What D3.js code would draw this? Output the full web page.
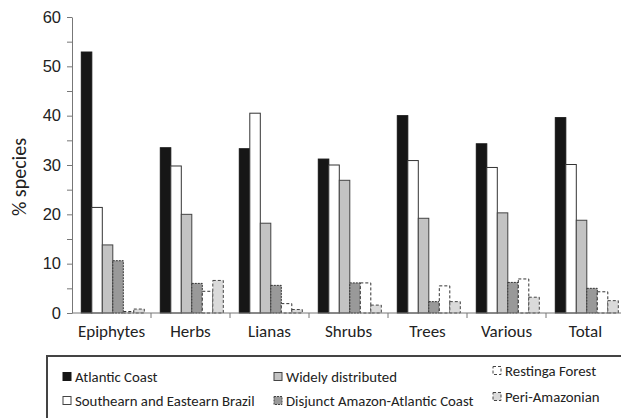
<!DOCTYPE html>
<html>
<head>
<meta charset="utf-8">
<script src="https://cdn.jsdelivr.net/npm/d3@7"></script>
<style>
  body { margin: 0; background: #fff; }
  svg { display: block; font-family: Carlito, Lato, "Open Sans", sans-serif; }
</style>
</head>
<body>
<div id="chart"></div>
<script>
// categories + series
const categories = ["Epiphytes", "Herbs", "Lianas", "Shrubs", "Trees", "Various", "Total"];
const seriesNames = ["Atlantic Coast", "Southearn and Eastearn Brazil", "Widely distributed",
                     "Disjunct Amazon-Atlantic Coast", "Restinga Forest", "Peri-Amazonian"];
const atlanticCoast = [52.9, 33.5, 33.3, 31.2, 40.0, 34.3, 39.6];
const southEastBrazil = [21.4, 29.8, 40.5, 30.0, 30.9, 29.5, 30.1];
const widelyDistributed = [13.8, 20.0, 18.2, 26.9, 19.2, 20.3, 18.8];
const disjunct = [10.6, 6.0, 5.6, 6.1, 2.3, 6.2, 5.0];
const restinga = [0.3, 4.4, 1.9, 6.1, 5.5, 6.9, 4.3];
const periAmazonian = [0.8, 6.6, 0.7, 1.6, 2.3, 3.2, 2.5];
const yTicks = [0, 10, 20, 30, 40, 50, 60];

const seriesValues = [atlanticCoast, southEastBrazil, widelyDistributed, disjunct, restinga, periAmazonian];

// bar styles per series
const styles = [
  { fill: "#161616", stroke: "#161616", dash: null },
  { fill: "#ffffff", stroke: "#333", dash: null },
  { fill: "#c3c3c3", stroke: "#444", dash: null },
  { fill: "#999999", stroke: "#333", dash: "2,1" },
  { fill: "#ffffff", stroke: "#333", dash: "3,2" },
  { fill: "#dadada", stroke: "#444", dash: "3,2" }
];

const width = 621, height = 418,
    margin = ({ top: 17, right: -4, bottom: 105, left: 72 });

const svg = d3.select("#chart")
  .append("svg")
  .attr("width", width)
  .attr("height", height);

let x = d3.scaleBand()
  .domain(categories)
  .range([margin.left, width - margin.right]);

// bars inside each category, a little off-centre like the original
let xs = d3.scaleBand()
  .domain(d3.range(seriesNames.length))
  .range([9.3, 9.3 + 63]);

let y = d3.scaleLinear()
  .domain([0, 60])
  .range([height - margin.bottom, margin.top]);

// bars
const rows = [];
seriesValues.forEach((vals, s) => {
  vals.forEach((v, i) => rows.push({ cat: categories[i], s: s, v: v }));
});

svg.append("g")
  .selectAll("rect")
  .data(rows)
  .join("rect")
    .attr("x", d => x(d.cat) + xs(d.s))
    .attr("y", d => y(d.v))
    .attr("width", xs.bandwidth())
    .attr("height", d => y(0) - y(d.v))
    .attr("fill", d => styles[d.s].fill)
    .attr("stroke", d => styles[d.s].stroke)
    .attr("stroke-width", 1)
    .attr("stroke-dasharray", d => styles[d.s].dash);

// y axis with minor ticks at the fives
const axisColor = "#777";
const yAxis = svg.append("g")
  .attr("transform", `translate(${margin.left},0)`)
  .call(d3.axisLeft(y).tickValues(d3.range(0, 61, 5)).tickSize(5).tickSizeOuter(0)
    .tickFormat(d => yTicks.includes(d) ? d : ""));
yAxis.select(".domain").attr("stroke", axisColor);
yAxis.selectAll(".tick line").attr("stroke", axisColor);
yAxis.selectAll(".tick text")
  .attr("font-size", 16.5)
  .attr("fill", "#222")
  .attr("font-family", "inherit")
  .attr("x", -11);

// x axis, ticks at category boundaries
const xAxisG = svg.append("g")
  .attr("transform", `translate(0,${y(0)})`);
xAxisG.append("line")
  .attr("x1", margin.left).attr("x2", width)
  .attr("stroke", axisColor);
xAxisG.selectAll(".bound")
  .data(categories.slice(1))
  .join("line")
    .attr("x1", d => x(d)).attr("x2", d => x(d))
    .attr("y1", 0).attr("y2", 5)
    .attr("stroke", axisColor);
xAxisG.selectAll("text")
  .data(categories)
  .join("text")
    .attr("x", d => x(d) + x.bandwidth() / 2)
    .attr("y", 24)
    .attr("text-anchor", "middle")
    .attr("font-size", 17)
    .attr("fill", "#222")
    .text(d => d);

svg.append("text")
  .attr("transform", "rotate(-90)")
  .attr("x", -177)
  .attr("y", 26)
  .attr("text-anchor", "middle")
  .attr("font-size", 20)
  .attr("fill", "#222")
  .text("% species");

// legend box (runs off the right and bottom edges)
const lg = svg.append("g");
lg.append("rect")
  .attr("x", 47).attr("y", 356)
  .attr("width", 600).attr("height", 100)
  .attr("fill", "none")
  .attr("stroke", "#444")
  .attr("stroke-width", 2);

const legendPos = [
  { x: 63, y: 377 }, { x: 63, y: 401 },
  { x: 274, y: 377 }, { x: 274, y: 401 },
  { x: 493, y: 371 }, { x: 493, y: 397 }
];

const items = lg.selectAll(".item")
  .data(seriesNames)
  .join("g")
    .attr("transform", (d, i) => `translate(${legendPos[i].x},${legendPos[i].y})`);

items.append("rect")
  .attr("x", 0).attr("y", -4.5)
  .attr("width", 8).attr("height", 8)
  .attr("fill", (d, i) => styles[i].fill)
  .attr("stroke", (d, i) => i === 0 ? styles[i].stroke : "#444")
  .attr("stroke-width", 1)
  .attr("stroke-dasharray", (d, i) => styles[i].dash);

items.append("text")
  .attr("x", 12)
  .attr("y", 0)
  .attr("dy", "0.35em")
  .attr("font-size", 14.8)
  .attr("fill", "#222")
  .text(d => d);
</script>
</body>
</html>
